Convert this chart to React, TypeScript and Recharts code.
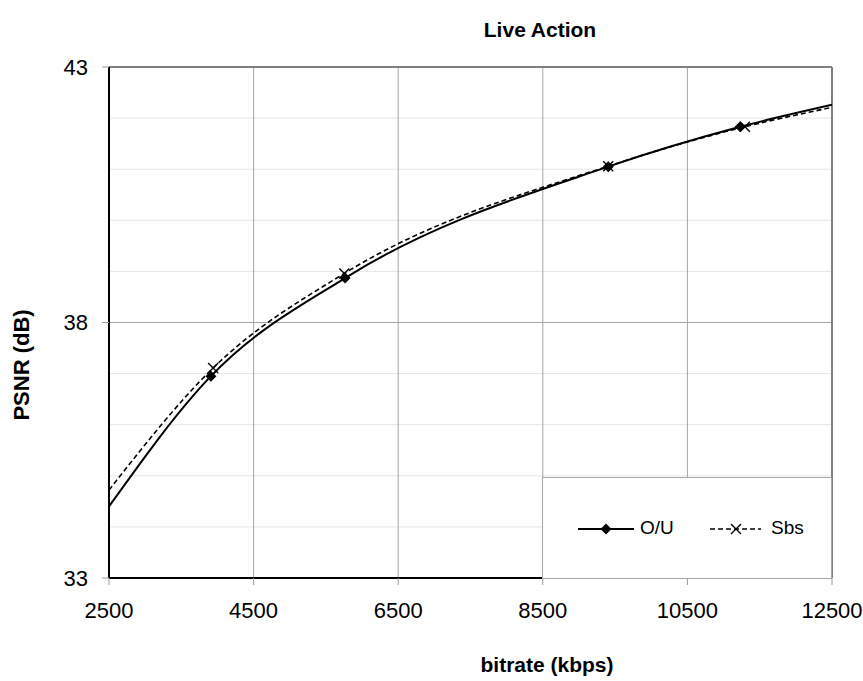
import React from 'react';
import { LineChart, Line, XAxis, YAxis, ReferenceLine, Legend } from 'recharts';

// curve ends (first/last) carry no marker, the rest are measured points
const ouBitrate = [2500, 3910, 5765, 9405, 11230, 12500];
const ouPsnr = [34.4, 36.95, 38.87, 41.05, 41.83, 42.26];
const sbsBitrate = [2500, 3940, 5755, 9405, 11295, 12500];
const sbsPsnr = [34.72, 37.11, 38.96, 41.06, 41.83, 42.21];

const xTicks = [2500, 4500, 6500, 8500, 10500, 12500];
const xGrid = [4500, 6500, 8500, 10500];
const yTicks = [33, 38, 43];
const yMinor = [34, 35, 36, 37, 39, 40, 41, 42];

const ouData = ouBitrate.map((x, i) => ({ x, y: ouPsnr[i] }));
const sbsData = sbsBitrate.map((x, i) => ({ x, y: sbsPsnr[i] }));

const FONT = 'Arial, "Liberation Sans", sans-serif';

const diamondDot = (props: any) => {
  const { cx, cy, index } = props;
  if (index === 0 || index === ouData.length - 1) return <g key={`ou-${index}`} />;
  const r = 5.5;
  return (
    <path
      key={`ou-${index}`}
      d={`M${cx},${cy - r} L${cx + r},${cy} L${cx},${cy + r} L${cx - r},${cy} Z`}
      fill="#000"
    />
  );
};

const crossDot = (props: any) => {
  const { cx, cy, index } = props;
  if (index === 0 || index === sbsData.length - 1) return <g key={`sbs-${index}`} />;
  const r = 5;
  return (
    <path
      key={`sbs-${index}`}
      d={`M${cx - r},${cy - r} L${cx + r},${cy + r} M${cx - r},${cy + r} L${cx + r},${cy - r}`}
      stroke="#000"
      strokeWidth={1.4}
      fill="none"
    />
  );
};

const LegendBox = () => (
  <div
    style={{
      position: 'relative',
      width: 290,
      height: 102,
      boxSizing: 'border-box',
      background: '#fff',
      border: '1px solid #a6a6a6',
      fontFamily: FONT,
      fontSize: 19,
      color: '#000',
    }}
  >
    <svg width={60} height={14} style={{ position: 'absolute', left: 35, top: 44 }}>
      <line x1={0} y1={7} x2={56} y2={7} stroke="#000" strokeWidth={2} />
      <path d="M28,1.5 L33.5,7 L28,12.5 L22.5,7 Z" fill="#000" />
    </svg>
    <span style={{ position: 'absolute', left: 97, top: 39 }}>O/U</span>
    <svg width={55} height={14} style={{ position: 'absolute', left: 167, top: 44 }}>
      <line x1={0} y1={7} x2={51} y2={7} stroke="#000" strokeWidth={1.6} strokeDasharray="5 3" />
      <path d="M21,2 L31,12 M21,12 L31,2" stroke="#000" strokeWidth={1.4} />
    </svg>
    <span style={{ position: 'absolute', left: 228, top: 39 }}>Sbs</span>
  </div>
);

export default function App() {
  return (
    <div style={{ position: 'relative', width: 863, height: 681, background: '#fff', fontFamily: FONT }}>
      <style>{`body{margin:0}`}</style>
      <div
        style={{
          position: 'absolute',
          left: 0,
          width: 1080,
          top: 18,
          textAlign: 'center',
          fontWeight: 'bold',
          fontSize: 21,
        }}
      >
        Live Action
      </div>
      <div
        style={{
          position: 'absolute',
          left: 0,
          width: 1094,
          top: 653,
          textAlign: 'center',
          fontWeight: 'bold',
          fontSize: 21,
        }}
      >
        bitrate (kbps)
      </div>
      <div
        style={{
          position: 'absolute',
          left: 22,
          top: 365,
          transform: 'translate(-50%, -50%) rotate(-90deg)',
          whiteSpace: 'nowrap',
          fontWeight: 'bold',
          fontSize: 22,
        }}
      >
        PSNR (dB)
      </div>
      <div style={{ position: 'absolute', left: 0, top: 0 }}>
        <LineChart width={863} height={681} margin={{ top: 67, right: 31, bottom: 73, left: 49 }}>
          {yMinor.map((v) => (
            <ReferenceLine key={`m${v}`} y={v} stroke="#e6e6e6" strokeWidth={1} />
          ))}
          {xGrid.map((v) => (
            <ReferenceLine key={`v${v}`} x={v} stroke="#a6a6a6" strokeWidth={1} />
          ))}
          <ReferenceLine y={38} stroke="#a6a6a6" strokeWidth={1} />
          <ReferenceLine y={43} stroke="#808080" strokeWidth={2} />
          <ReferenceLine x={12500} stroke="#808080" strokeWidth={2} />
          <XAxis
            type="number"
            dataKey="x"
            domain={[2500, 12500]}
            ticks={xTicks}
            interval={0}
            allowDataOverflow
            axisLine={{ stroke: '#000', strokeWidth: 2 }}
            tickLine={{ stroke: '#999' }}
            tickSize={7}
            tickMargin={17}
            height={30}
            tick={{ fontSize: 22, fill: '#000', fontFamily: FONT }}
          />
          <YAxis
            type="number"
            domain={[33, 43]}
            ticks={yTicks}
            interval={0}
            allowDataOverflow
            axisLine={{ stroke: '#000', strokeWidth: 2 }}
            tickLine={{ stroke: '#999' }}
            tickSize={7}
            tickMargin={14}
            width={60}
            tick={{ fontSize: 22, fill: '#000', fontFamily: FONT }}
          />
          <Line
            data={sbsData}
            dataKey="y"
            name="Sbs"
            type="monotone"
            stroke="#000"
            strokeWidth={1.6}
            strokeDasharray="5 3"
            dot={crossDot}
            activeDot={false}
            isAnimationActive={false}
          />
          <Line
            data={ouData}
            dataKey="y"
            name="O/U"
            type="monotone"
            stroke="#000"
            strokeWidth={2}
            dot={diamondDot}
            activeDot={false}
            isAnimationActive={false}
          />
          <Legend
            layout="horizontal"
            verticalAlign="middle"
            align="center"
            content={() => <LegendBox />}
            wrapperStyle={{ position: 'absolute', left: 542, top: 477, width: 290, height: 102 }}
          />
        </LineChart>
      </div>
    </div>
  );
}
